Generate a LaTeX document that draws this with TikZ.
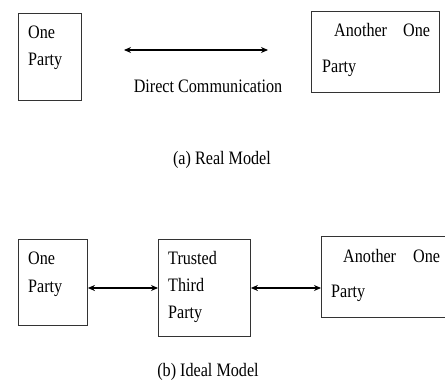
\documentclass[tikz,border=0pt]{standalone}
\usepackage{fontspec}
\setmainfont[FakeStretch=0.85]{Liberation Serif}
\usetikzlibrary{arrows.meta}
\begin{document}
\begin{tikzpicture}[x=1pt,y=-1pt,
  box/.style={draw=black!80,line width=0.9pt,inner sep=0pt,anchor=north west},
  txt/.style={anchor=base west,inner sep=0pt,font=\fontsize{19}{19}\selectfont},
  ctxt/.style={anchor=base,inner sep=0pt,font=\fontsize{19}{19}\selectfont},
  arr/.style={line width=1.3pt,{Stealth[length=7pt,width=6pt]}-{Stealth[length=7pt,width=6pt]}}]
\useasboundingbox (0,0) rectangle (445,380);
% (a) Real model
\node[box,minimum width=63pt,minimum height=87pt] (p1) at (18,13) {};
\node[txt] (p1a) at (28,38) {One};
\node[txt] (p1b) at (28,65) {Party};
\node[box,minimum width=128pt,minimum height=81pt] (p2) at (311,11) {};
\node[txt] (p2a) at (334,36) {Another};
\node[txt] (p2b) at (403,36) {One};
\node[txt] (p2c) at (322,72) {Party};
\coordinate (dl) at (124,50);
\coordinate (dr) at (268,50);
\draw[arr] (dl) -- (dr);
\node[ctxt] (dc) at (208,92) {Direct Communication};
\node[ctxt] (capa) at (222,164) {(a) Real Model};
% (b) Ideal model
\node[box,minimum width=69pt,minimum height=86pt] (q1) at (18,239) {};
\node[txt] (q1a) at (28,264) {One};
\node[txt] (q1b) at (28,292) {Party};
\node[box,minimum width=92pt,minimum height=97pt] (tt) at (158,239) {};
\node[txt] (tta) at (168,264) {Trusted};
\node[txt] (ttb) at (168,291) {Third};
\node[txt] (ttc) at (168,318) {Party};
\begin{scope}
\clip (0,0) rectangle (445,380);
\node[box,minimum width=130pt,minimum height=81pt] (q2) at (321,236) {};
\end{scope}
\node[txt] (q2a) at (343,262) {Another};
\node[txt] (q2b) at (413,262) {One};
\node[txt] (q2c) at (331,297) {Party};
\draw[arr] (q1.east |- 0,288) -- (tt.west |- 0,288);
\draw[arr] (tt.east |- 0,288) -- (q2.west |- 0,288);
\node[ctxt] (capb) at (208,376) {(b) Ideal Model};
\end{tikzpicture}
\end{document}
